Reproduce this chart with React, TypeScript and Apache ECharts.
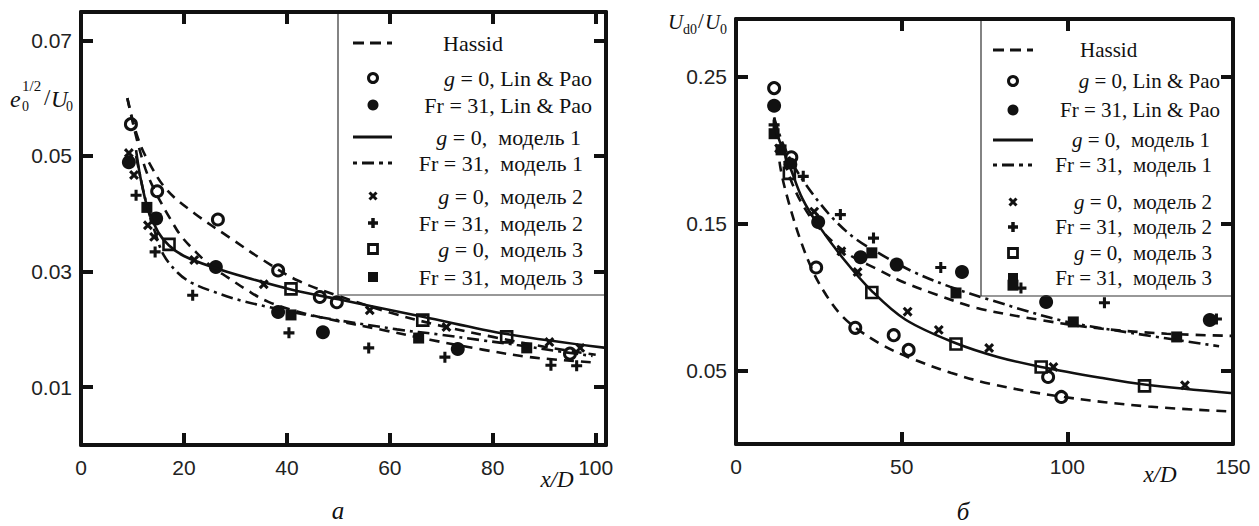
import React, { useEffect, useRef } from 'react';
import * as echarts from 'echarts';

// ================= Panel "a" (left) =================
const A_X_MAX = 102;
const A_Y_MAX = 0.0749;
const A_X_TICKS = [0, 20, 40, 60, 80, 100];
const A_Y_TICKS = [0.01, 0.03, 0.05, 0.07];

// Hassid, g = 0 (upper dashed)
const A_HASSID_G0_X = [9, 10.9, 13, 16.7, 22, 29, 35, 42, 50, 60, 70, 80, 90, 100];
const A_HASSID_G0_Y = [0.06, 0.0535, 0.0492, 0.0441, 0.0401, 0.0358, 0.0322, 0.0285, 0.0258, 0.0229, 0.0206, 0.0187, 0.017, 0.0156];
// Hassid, Fr = 31 (lower dashed)
const A_HASSID_FR_X = [9, 10.9, 12.5, 14, 15.5, 17.5, 19.4, 22.3, 25.2, 28.5, 32.6, 36.3, 42, 48, 58.6, 67.8, 78, 87.2, 99.4];
const A_HASSID_FR_Y = [0.06, 0.0527, 0.0478, 0.0446, 0.042, 0.0389, 0.0362, 0.0334, 0.031, 0.029, 0.0266, 0.0248, 0.0231, 0.0218, 0.0199, 0.0182, 0.0165, 0.0152, 0.0143];
// model 1, g = 0 (solid)
const A_M1_G0_X = [10.7, 11.5, 13, 15, 17.1, 20, 25.8, 32, 40.8, 50, 56, 66.4, 82.7, 102];
const A_M1_G0_Y = [0.051, 0.0465, 0.0408, 0.0368, 0.0345, 0.0327, 0.0307, 0.029, 0.0269, 0.0252, 0.0241, 0.0222, 0.0192, 0.0168];
// model 1, Fr = 31 (dash-dot)
const A_M1_FR_X = [10.7, 12.5, 14.5, 16.1, 18.8, 21.4, 25.8, 31, 36.3, 45.2, 61.4, 69.7, 78, 84.7, 93.6, 99.4];
const A_M1_FR_Y = [0.05, 0.0425, 0.0365, 0.0328, 0.0298, 0.0281, 0.0265, 0.025, 0.0239, 0.0223, 0.02, 0.0191, 0.0181, 0.0173, 0.0161, 0.0154];

const A_LINPAO_G0 = [[9.7, 0.0555], [14.8, 0.0439], [26.6, 0.039], [38.3, 0.0302], [46.4, 0.0256], [49.7, 0.0247], [95, 0.0158]];
const A_LINPAO_FR = [[9.3, 0.0489], [14.6, 0.0392], [26.2, 0.0308], [38.3, 0.023], [47, 0.0195], [73.2, 0.0166]];
const A_M2_G0 = [[9.3, 0.0505], [10.3, 0.0467], [13, 0.038], [14.2, 0.036], [22, 0.032], [35.5, 0.0278], [56.1, 0.0233], [71, 0.0204], [91, 0.0178], [97, 0.0168]];
const A_M2_FR = [[10.7, 0.0432], [14.4, 0.0334], [21.7, 0.0259], [40.4, 0.0194], [55.9, 0.0168], [70.7, 0.0152], [91.3, 0.0138], [96.3, 0.0137]];
const A_M3_G0 = [[17.1, 0.0347], [40.8, 0.027], [66.4, 0.0216], [82.7, 0.0187]];
const A_M3_FR = [[12.8, 0.0411], [40.8, 0.0225], [65.6, 0.0185], [86.6, 0.0168]];

// ================= Panel "б" (right) =================
const B_X_MAX = 150;
const B_Y_MAX = 0.289;
const B_X_TICKS = [0, 50, 100, 150];
const B_Y_TICKS = [0.05, 0.15, 0.25];

const B_HASSID_G0_X = [12, 13.4, 15.7, 19.4, 23.3, 27.3, 31.2, 35.5, 43.6, 51.8, 64.8, 77, 98.2, 124.5, 150];
const B_HASSID_G0_Y = [0.215, 0.188, 0.166, 0.139, 0.117, 0.101, 0.089, 0.08, 0.068, 0.0592, 0.0485, 0.0408, 0.0322, 0.0255, 0.022];
const B_HASSID_FR_X = [12, 14, 17, 20.3, 25, 33.3, 42.5, 50.6, 60.6, 72.7, 92, 110, 130, 150];
const B_HASSID_FR_Y = [0.215, 0.197, 0.177, 0.162, 0.147, 0.13, 0.119, 0.11, 0.1015, 0.0925, 0.0843, 0.0785, 0.075, 0.0735];
const B_M1_G0_X = [11.5, 12.7, 16.7, 20, 24.8, 32.4, 41, 51.2, 66.4, 79, 92.1, 110, 123.3, 150];
const B_M1_G0_Y = [0.222, 0.209, 0.186, 0.167, 0.149, 0.126, 0.104, 0.0845, 0.0685, 0.0592, 0.0524, 0.0451, 0.0405, 0.0345];
const B_M1_FR_X = [11.5, 14, 17, 20.3, 25.2, 30.3, 36.4, 44.5, 53.6, 64.5, 76.7, 99.1, 119.4, 145.8];
const B_M1_FR_Y = [0.222, 0.205, 0.191, 0.179, 0.164, 0.151, 0.139, 0.128, 0.117, 0.107, 0.098, 0.0835, 0.0755, 0.0665];

const B_LINPAO_G0 = [[11.5, 0.242], [16.7, 0.195], [24.2, 0.12], [36, 0.079], [47.6, 0.074], [52.1, 0.064], [94.2, 0.0456], [98.2, 0.032]];
const B_LINPAO_FR = [[11.5, 0.23], [16.4, 0.19], [24.8, 0.151], [37.6, 0.127], [48.5, 0.122], [68.2, 0.117], [93.6, 0.0966], [143, 0.0843]];
const B_M2_G0 = [[13, 0.201], [23.6, 0.158], [31.8, 0.131], [36.7, 0.117], [51.8, 0.09], [61.2, 0.0776], [76.4, 0.0653], [95.8, 0.0524], [135.5, 0.04]];
const B_M2_FR = [[11.5, 0.217], [20.3, 0.182], [31.5, 0.156], [41.5, 0.14], [61.8, 0.12], [86, 0.106], [111.2, 0.096], [145, 0.085]];
const B_M3_G0 = [[16.1, 0.184], [41, 0.103], [66.4, 0.068], [92.1, 0.0524], [123.3, 0.0395]];
const B_M3_FR = [[11.5, 0.211], [13.6, 0.2], [41, 0.13], [66.4, 0.1027], [83.6, 0.108], [101.8, 0.083], [133, 0.0728]];

const LEGEND_LABELS = [
  'Hassid',
  'g = 0, Lin & Pao',
  'Fr = 31, Lin & Pao',
  'g = 0,  модель 1',
  'Fr = 31,  модель 1',
  'g = 0,  модель 2',
  'Fr = 31,  модель 2',
  'g = 0,  модель 3',
  'Fr = 31,  модель 3',
];
const LEGEND_KINDS = ['dash', 'openCircle', 'circle', 'solid', 'dashdot', 'cross', 'plus', 'openSquare', 'square'];

const INK = '#111111';
const SERIF = '"Liberation Serif", "Times New Roman", serif';
const SANS = '"Liberation Sans", Arial, sans-serif';
const PLUS_PATH = 'path://M36,0H64V36H100V64H64V100H36V64H0V36H36Z';
const DASH = [10, 7];
const DASHDOT = [12, 5, 3, 5];

const GRIDS = [
  { left: 81, top: 12, width: 525, height: 433 },
  { left: 736, top: 19, width: 497, height: 425 },
];

const zip = (xs: number[], ys: number[]) => xs.map((x, i) => [x, ys[i]]);

function lineSeries(name: string, xi: number, data: number[][], type: any) {
  return {
    name, type: 'line', xAxisIndex: xi, yAxisIndex: xi, data,
    smooth: 0.35, symbol: 'none',
    lineStyle: { color: INK, width: 2.6, type },
  };
}
function scatterSeries(name: string, xi: number, data: number[][], kind: string) {
  const base: any = { name, type: 'scatter', xAxisIndex: xi, yAxisIndex: xi, data };
  if (kind === 'openCircle') Object.assign(base, { symbol: 'circle', symbolSize: 11, itemStyle: { color: '#fff', borderColor: INK, borderWidth: 3, opacity: 1 } });
  if (kind === 'circle') Object.assign(base, { symbol: 'circle', symbolSize: 14, itemStyle: { color: INK, opacity: 1 } });
  if (kind === 'cross') Object.assign(base, { symbol: PLUS_PATH, symbolSize: 11, symbolRotate: 45, itemStyle: { color: INK, opacity: 1 } });
  if (kind === 'plus') Object.assign(base, { symbol: PLUS_PATH, symbolSize: 11, itemStyle: { color: INK, opacity: 1 } });
  if (kind === 'openSquare') Object.assign(base, { symbol: 'rect', symbolSize: 11, itemStyle: { color: '#fff', borderColor: INK, borderWidth: 2.6, opacity: 1 } });
  if (kind === 'square') Object.assign(base, { symbol: 'rect', symbolSize: 11, itemStyle: { color: INK, opacity: 1 } });
  return base;
}

// Visible axis (frame, inward ticks, labels) - used in the overlay chart.
function frameAxis(kind: 'x' | 'y', grid: number, position: string, max: number, ticks: number[], showLabel: boolean) {
  return {
    type: 'value', gridIndex: grid, position, min: 0, max,
    axisLine: { show: true, onZero: false, lineStyle: { color: INK, width: 4 } },
    axisTick: { show: true, inside: true, length: 12, customValues: ticks, lineStyle: { color: INK, width: 4 } },
    axisLabel: {
      show: showLabel, customValues: ticks, margin: kind === 'x' ? 12 : 9, color: '#222', fontFamily: SANS, fontSize: 21,
      formatter: kind === 'x' ? (v: number) => String(v) : (v: number) => v.toFixed(2),
    },
    splitLine: { show: false },
  };
}
// Invisible axis carrying the same scale - used in the data chart.
function dataAxis(grid: number, max: number) {
  return {
    type: 'value', gridIndex: grid, min: 0, max,
    axisLine: { show: false }, axisTick: { show: false }, axisLabel: { show: false }, splitLine: { show: false },
  };
}

function text(x: number, y: number, t: string, size: number, opts: any = {}) {
  const style: any = {
    text: t, fontSize: size, fontFamily: SERIF, fontStyle: opts.italic ? 'italic' : 'normal',
    fill: INK, align: opts.align || 'left', verticalAlign: 'middle',
  };
  if (opts.rich) style.rich = opts.rich;
  return { type: 'text', x, y, z: 20, silent: true, style };
}

function legendGraphics(L: any) {
  const els: any[] = [];
  els.push({ type: 'rect', z: 15, silent: true, shape: { x: L.box[0], y: L.box[1], width: L.box[2], height: L.box[3] }, style: { fill: 'none', stroke: '#333', lineWidth: 1.2 } });
  LEGEND_LABELS.forEach((label, i) => {
    const y = L.rows[i];
    const cx = L.symX;
    const kind = LEGEND_KINDS[i];
    const lineShape = { x1: L.lineX[0], y1: y, x2: L.lineX[1], y2: y };
    if (kind === 'dash') els.push({ type: 'line', z: 20, silent: true, shape: lineShape, style: { stroke: INK, lineWidth: 3, lineDash: [11, 6] } });
    if (kind === 'solid') els.push({ type: 'line', z: 20, silent: true, shape: lineShape, style: { stroke: INK, lineWidth: 3 } });
    if (kind === 'dashdot') els.push({ type: 'line', z: 20, silent: true, shape: lineShape, style: { stroke: INK, lineWidth: 3, lineDash: [4, 5, 12, 5, 4, 5] } });
    if (kind === 'openCircle') els.push({ type: 'circle', z: 20, silent: true, shape: { cx, cy: y, r: 4.5 }, style: { fill: '#fff', stroke: INK, lineWidth: 3 } });
    if (kind === 'circle') els.push({ type: 'circle', z: 20, silent: true, shape: { cx, cy: y, r: 5.5 }, style: { fill: INK } });
    if (kind === 'cross') {
      els.push({ type: 'line', z: 20, silent: true, shape: { x1: cx - 3.5, y1: y - 3.5, x2: cx + 3.5, y2: y + 3.5 }, style: { stroke: INK, lineWidth: 3 } });
      els.push({ type: 'line', z: 20, silent: true, shape: { x1: cx - 3.5, y1: y + 3.5, x2: cx + 3.5, y2: y - 3.5 }, style: { stroke: INK, lineWidth: 3 } });
    }
    if (kind === 'plus') {
      els.push({ type: 'line', z: 20, silent: true, shape: { x1: cx - 5, y1: y, x2: cx + 5, y2: y }, style: { stroke: INK, lineWidth: 3.5 } });
      els.push({ type: 'line', z: 20, silent: true, shape: { x1: cx, y1: y - 5, x2: cx, y2: y + 5 }, style: { stroke: INK, lineWidth: 3.5 } });
    }
    if (kind === 'openSquare') els.push({ type: 'rect', z: 20, silent: true, shape: { x: cx - 4.5, y: y - 4.5, width: 9, height: 9 }, style: { fill: '#fff', stroke: INK, lineWidth: 2.8 } });
    if (kind === 'square') els.push({ type: 'rect', z: 20, silent: true, shape: { x: cx - 5, y: y - 5, width: 10, height: 10 }, style: { fill: INK } });

    const rich = { i: { fontStyle: 'italic', fontSize: L.font, fontFamily: SERIF, fill: INK } };
    const t = label.startsWith('g ') ? '{i|g}' + label.slice(1) : label;
    if (i === 0) els.push(text(L.hassidLeft, y, t, L.font));
    else els.push(text(L.textRight[i], y, t, L.font, { align: 'right', rich }));
  });
  return els;
}

const LEG_A = {
  box: [338, 12, 268, 283], rows: [43, 78, 105, 137, 163, 196, 223, 249, 277],
  symX: 373, lineX: [353, 392], hassidLeft: 443, font: 22,
  textRight: [0, 592, 592, 581, 583, 583, 583, 583, 583],
};
const LEG_B = {
  box: [981, 19, 252, 277], rows: [50, 81, 110, 140, 165, 202, 227, 253, 278],
  symX: 1013, lineX: [993, 1033], hassidLeft: 1080, font: 21,
  textRight: [0, 1220, 1220, 1210, 1212, 1212, 1212, 1212, 1212],
};

export default function App() {
  const dataRef = useRef<HTMLDivElement>(null);
  const frameRef = useRef<HTMLDivElement>(null);
  useEffect(() => {
    document.body.style.margin = '0';
    const chart = echarts.init(dataRef.current!, undefined, { renderer: 'svg' });
    const frame = echarts.init(frameRef.current!, undefined, { renderer: 'svg' });

    chart.setOption({
      animation: false,
      backgroundColor: '#fff',
      grid: GRIDS,
      xAxis: [dataAxis(0, A_X_MAX), dataAxis(1, B_X_MAX)],
      yAxis: [dataAxis(0, A_Y_MAX), dataAxis(1, B_Y_MAX)],
      series: [
        lineSeries('Hassid', 0, zip(A_HASSID_G0_X, A_HASSID_G0_Y), DASH),
        lineSeries('Hassid', 0, zip(A_HASSID_FR_X, A_HASSID_FR_Y), DASH),
        lineSeries('g = 0, модель 1', 0, zip(A_M1_G0_X, A_M1_G0_Y), 'solid'),
        lineSeries('Fr = 31, модель 1', 0, zip(A_M1_FR_X, A_M1_FR_Y), DASHDOT),
        scatterSeries('g = 0, Lin & Pao', 0, A_LINPAO_G0, 'openCircle'),
        scatterSeries('Fr = 31, Lin & Pao', 0, A_LINPAO_FR, 'circle'),
        scatterSeries('g = 0, модель 2', 0, A_M2_G0, 'cross'),
        scatterSeries('Fr = 31, модель 2', 0, A_M2_FR, 'plus'),
        scatterSeries('g = 0, модель 3', 0, A_M3_G0, 'openSquare'),
        scatterSeries('Fr = 31, модель 3', 0, A_M3_FR, 'square'),

        lineSeries('Hassid', 1, zip(B_HASSID_G0_X, B_HASSID_G0_Y), DASH),
        lineSeries('Hassid', 1, zip(B_HASSID_FR_X, B_HASSID_FR_Y), DASH),
        lineSeries('g = 0, модель 1', 1, zip(B_M1_G0_X, B_M1_G0_Y), 'solid'),
        lineSeries('Fr = 31, модель 1', 1, zip(B_M1_FR_X, B_M1_FR_Y), DASHDOT),
        scatterSeries('g = 0, Lin & Pao', 1, B_LINPAO_G0, 'openCircle'),
        scatterSeries('Fr = 31, Lin & Pao', 1, B_LINPAO_FR, 'circle'),
        scatterSeries('g = 0, модель 2', 1, B_M2_G0, 'cross'),
        scatterSeries('Fr = 31, модель 2', 1, B_M2_FR, 'plus'),
        scatterSeries('g = 0, модель 3', 1, B_M3_G0, 'openSquare'),
        scatterSeries('Fr = 31, модель 3', 1, B_M3_FR, 'square'),
      ],
      graphic: [
        ...legendGraphics(LEG_A),
        ...legendGraphics(LEG_B),
        // left y-axis title  e0^(1/2)/U0
        text(10, 99, 'e', 24, { italic: true }),
        text(22, 86, '1/2', 15),
        text(22, 106, '0', 14),
        text(44, 97, '/', 23),
        text(51, 99, 'U', 23, { italic: true }),
        text(66, 106, '0', 14),
        // right y-axis title  Ud0/U0
        text(668, 22, 'U', 21, { italic: true }),
        text(683, 29, 'd0', 14),
        text(698, 21, '/', 21),
        text(705, 22, 'U', 21, { italic: true }),
        text(720, 29, '0', 14),
        // x titles and panel letters
        text(557, 479, 'x/D', 23, { italic: true, align: 'center' }),
        text(1160, 474, 'x/D', 23, { italic: true, align: 'center' }),
        text(338, 510, 'a', 25, { italic: true, align: 'center' }),
        text(963, 511, 'б', 25, { italic: true, align: 'center' }),
      ],
    } as any);

    // Overlay chart: same grids and scales, draws the thick frame, inward ticks and tick labels.
    frame.setOption({
      animation: false,
      grid: GRIDS,
      xAxis: [
        frameAxis('x', 0, 'bottom', A_X_MAX, A_X_TICKS, true),
        frameAxis('x', 0, 'top', A_X_MAX, A_X_TICKS, false),
        frameAxis('x', 1, 'bottom', B_X_MAX, B_X_TICKS, true),
        frameAxis('x', 1, 'top', B_X_MAX, B_X_TICKS, false),
      ],
      yAxis: [
        frameAxis('y', 0, 'left', A_Y_MAX, A_Y_TICKS, true),
        frameAxis('y', 0, 'right', A_Y_MAX, A_Y_TICKS, false),
        frameAxis('y', 1, 'left', B_Y_MAX, B_Y_TICKS, true),
        frameAxis('y', 1, 'right', B_Y_MAX, B_Y_TICKS, false),
      ],
      series: [],
    } as any);

    return () => { chart.dispose(); frame.dispose(); };
  }, []);
  return (
    <div style={{ position: 'relative', width: 1259, height: 526 }}>
      <div ref={dataRef} style={{ position: 'absolute', left: 0, top: 0, width: 1259, height: 526 }} />
      <div ref={frameRef} style={{ position: 'absolute', left: 0, top: 0, width: 1259, height: 526, pointerEvents: 'none' }} />
    </div>
  );
}
